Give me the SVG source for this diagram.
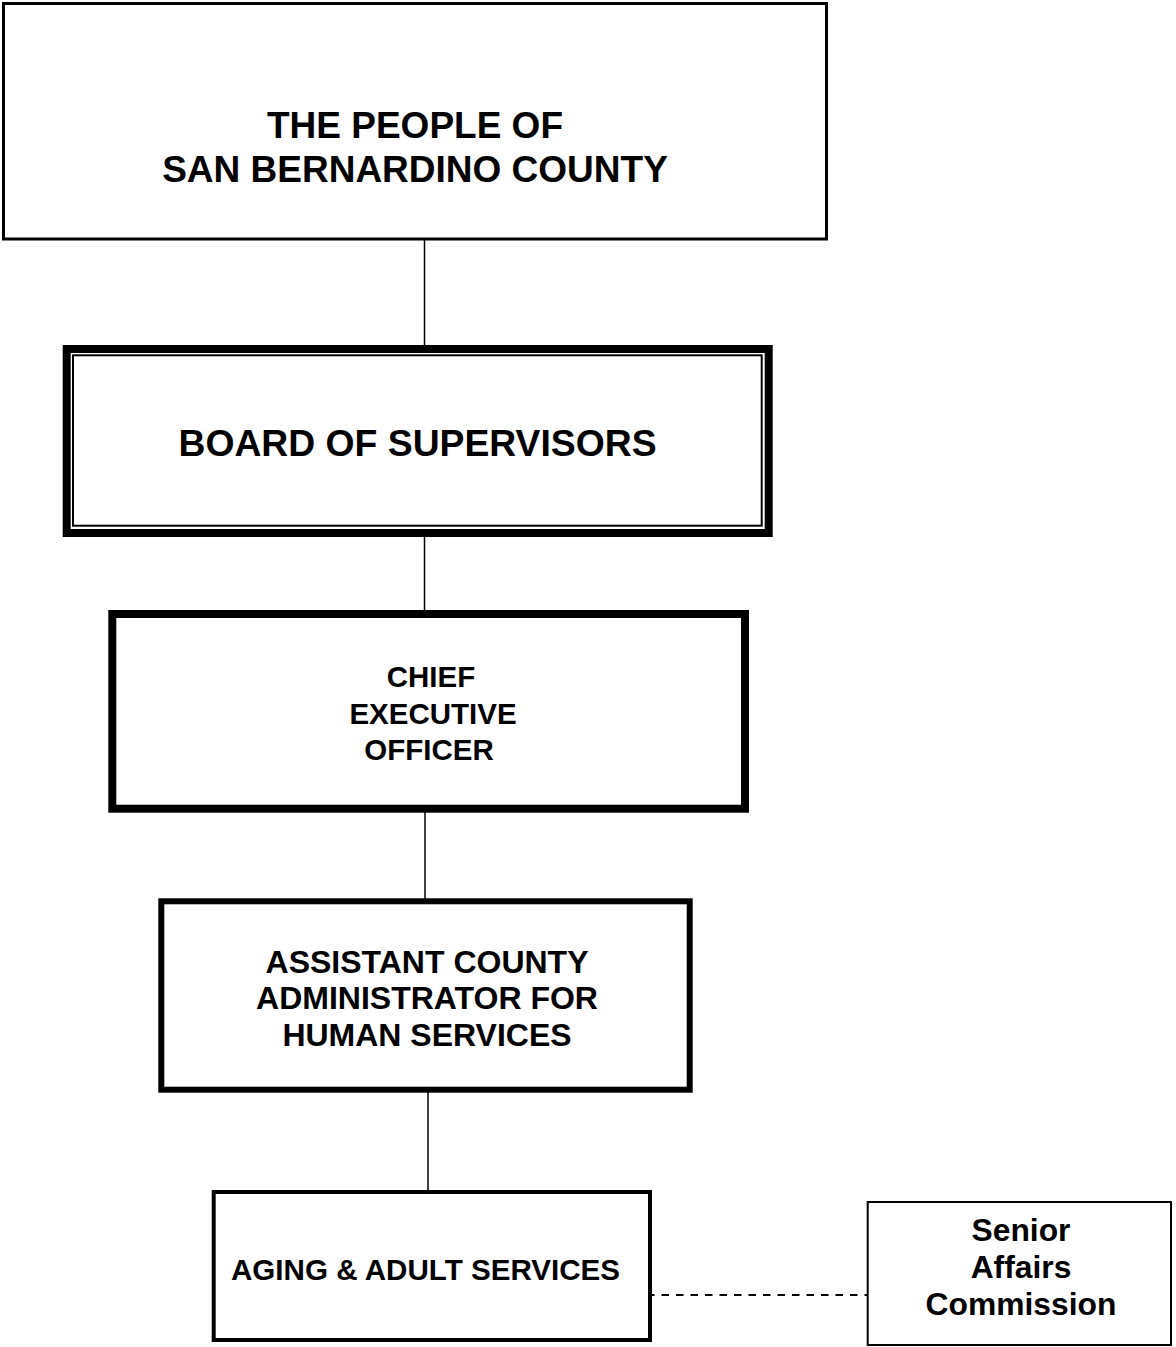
<svg xmlns="http://www.w3.org/2000/svg" width="1176" height="1347" viewBox="0 0 1176 1347">
<style>
text{font-family:"Liberation Sans",Arial,sans-serif;font-weight:bold;fill:#000;text-anchor:middle}
.box{fill:#fff;stroke:#000}
.conn{stroke:#000;stroke-width:1.5;fill:none}
.dash{stroke:#000;stroke-width:2;fill:none;stroke-dasharray:7.5,7}
</style>
<rect width="1176" height="1347" fill="#fff"/>
<g id="connectors">
<line class="conn" x1="424.5" y1="238" x2="424.5" y2="346"/>
<line class="conn" x1="424.5" y1="536" x2="424.5" y2="611"/>
<line class="conn" x1="425" y1="811" x2="425" y2="899"/>
<line class="conn" x1="428" y1="1091" x2="428" y2="1191"/>
<line class="dash" x1="647" y1="1295" x2="867" y2="1295"/>
</g>
<g id="people">
<rect class="box" x="3.5" y="3.5" width="823" height="235.5" stroke-width="3"/>
<text x="415" y="138" font-size="37">THE PEOPLE OF</text>
<text x="415" y="182" font-size="37">SAN BERNARDINO COUNTY</text>
</g>
<g id="board">
<rect class="box" x="66.7" y="349" width="702" height="184" stroke-width="8"/>
<rect class="box" x="73" y="355.3" width="688.7" height="170.4" stroke-width="2"/>
<text x="417.5" y="456" font-size="37.3">BOARD OF SUPERVISORS</text>
</g>
<g id="ceo">
<rect class="box" x="112.3" y="614" width="632.7" height="194.7" stroke-width="8"/>
<text x="431" y="687" font-size="29.5">CHIEF</text>
<text x="433" y="724" font-size="29.5">EXECUTIVE</text>
<text x="429" y="760" font-size="29.5">OFFICER</text>
</g>
<g id="aca">
<rect class="box" x="161.3" y="901.3" width="528.4" height="188.4" stroke-width="6"/>
<text x="427" y="973" font-size="32">ASSISTANT COUNTY</text>
<text x="427" y="1009" font-size="32">ADMINISTRATOR FOR</text>
<text x="427" y="1046" font-size="32">HUMAN SERVICES</text>
</g>
<g id="aging">
<rect class="box" x="213.7" y="1192" width="436.3" height="148" stroke-width="4"/>
<text x="425.5" y="1280" font-size="29.6">AGING &amp; ADULT SERVICES</text>
</g>
<g id="senior">
<rect class="box" x="867.7" y="1202" width="303.3" height="143" stroke-width="2"/>
<text x="1021" y="1241" font-size="31.8">Senior</text>
<text x="1021" y="1278" font-size="31.8">Affairs</text>
<text x="1021" y="1315" font-size="31.8">Commission</text>
</g>
</svg>
